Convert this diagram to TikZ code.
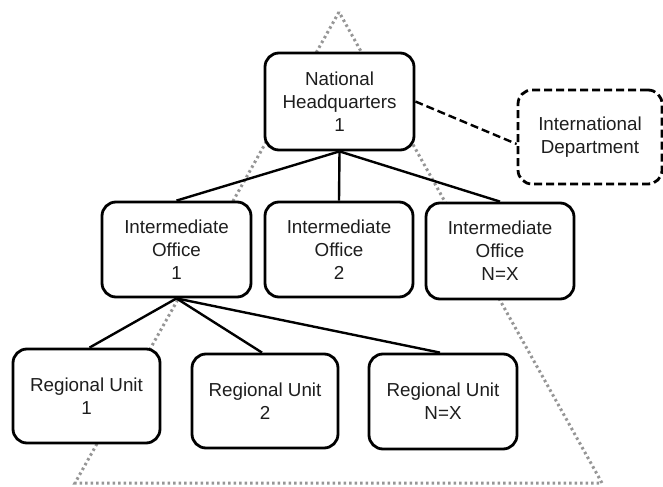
\documentclass[tikz,border=0pt]{standalone}
\usepackage{fontspec}
\setmainfont{Liberation Sans}
\definecolor{txt}{RGB}{30,30,30}
\definecolor{dotgray}{RGB}{150,150,150}
\begin{document}
\begin{tikzpicture}[x=1bp,y=-1bp,
  box/.style={draw=black, line width=2.8bp, rounded corners=14bp, fill=white,
    align=center, text=txt, inner sep=0pt,
    font=\fontsize{18.8bp}{23bp}\selectfont},
  link/.style={draw=black, line width=2.4bp},
  dlink/.style={draw=black, line width=2.4bp, dash pattern=on 8bp off 4bp},
  tri/.style={draw=dotgray, line width=3bp, dash pattern=on 2.5bp off 3bp}]
\useasboundingbox (0,0) rectangle (663,487);
% dotted triangle
\coordinate (ta) at (339,12);
\coordinate (tl) at (75,483);
\coordinate (tr) at (602,483);
\draw[tri] (ta) -- (tl) -- (tr) -- cycle;
% nodes
\node[box, minimum width=149bp, minimum height=97bp] (hq) at (339.5,101.5) {National\\Headquarters\\1};
\node[box, dash pattern=on 8bp off 4bp, minimum width=144bp, minimum height=94bp] (id) at (590,137) {International\\Department};
\node[box, minimum width=149bp, minimum height=95bp] (io1) at (176.5,249.5) {Intermediate\\Office\\1};
\node[box, minimum width=148bp, minimum height=95bp] (io2) at (339,249.5) {Intermediate\\Office\\2};
\node[box, minimum width=148bp, minimum height=96bp] (io3) at (500,251) {Intermediate\\Office\\N=X};
\node[box, minimum width=147bp, minimum height=94bp] (ru1) at (86.5,396) {Regional Unit\\1};
\node[box, minimum width=146bp, minimum height=94bp] (ru2) at (265,401) {Regional Unit\\2};
\node[box, minimum width=148bp, minimum height=95bp] (ru3) at (443,401.5) {Regional Unit\\N=X};
% connectors
\draw[link] (hq.south) -- (io1.north);
\draw[link] (hq.south) -- (io2.north);
\draw[link] (hq.south) -- (io3.north);
\draw[link] (io1.south) -- ([xshift=3bp]ru1.north);
\draw[link] (io1.south) -- ([xshift=-3bp]ru2.north);
\draw[link] (io1.south) -- ([xshift=-3bp]ru3.north);
\draw[dlink] (hq.east) -- ([yshift=-7bp]id.west);
\end{tikzpicture}
\end{document}
